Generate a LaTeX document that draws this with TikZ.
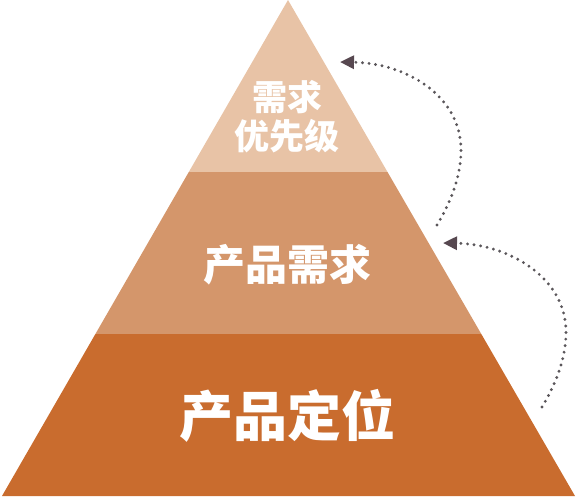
\documentclass[tikz,border=0pt]{standalone}
\usepackage{fontspec}
\usepackage{tikz}
\usetikzlibrary{arrows.meta}
\newfontfamily\cjk{Noto Sans CJK SC}
\definecolor{toptone}{HTML}{E8C3A6}
\definecolor{midtone}{HTML}{D4966B}
\definecolor{basetone}{HTML}{C96C2E}
\definecolor{dotgray}{HTML}{5A565A}
\definecolor{tipgray}{HTML}{574850}
\def\topband{(288,0) -- (188.8,172) -- (387.5,172) -- cycle}
\def\midband{(188.8,172) -- (95.4,334) -- (481.3,334) -- (387.5,172) -- cycle}
\def\baseband{(95.4,334) -- (2,496) -- (575,496) -- (481.3,334) -- cycle}
\tikzset{
  label/.style={text=white,align=center},
  upflow/.style={draw=dotgray,line width=3.2pt,line cap=round,
    dash pattern=on 0pt off 6.6pt,
    -{Triangle[length=14pt,width=13pt,fill=tipgray,color=tipgray]}}
}

\begin{document}
\begin{tikzpicture}[x=1pt,y=-1pt]
			\useasboundingbox (0,0) rectangle (578,500);
			\fill[toptone] \topband;
			\fill[midtone] \midband;
			\fill[basetone] \baseband;
			\node[label,font={\cjk\bfseries\fontsize{35}{39}\selectfont}] (priority) at (287,117) {需求\\优先级};
			\node[label,font={\cjk\bfseries\fontsize{42}{46}\selectfont}] (demand) at (287,265) {产品需求};
			\node[label,font={\cjk\bfseries\fontsize{54}{58}\selectfont}] (position) at (287,416) {产品定位};
			\coordinate (from1) at (437,225);
			\coordinate (to1) at (340,62);
			\coordinate (from2) at (542,407);
			\coordinate (to2) at (443,243);
			\foreach \i in {1,2}
				\draw[upflow] (from\i) .. controls +(15,-25) and +(0,25) .. ++(24,-75)
					.. controls +(0,-55) and +(65,1) .. (to\i);
		\end{tikzpicture}
\end{document}
